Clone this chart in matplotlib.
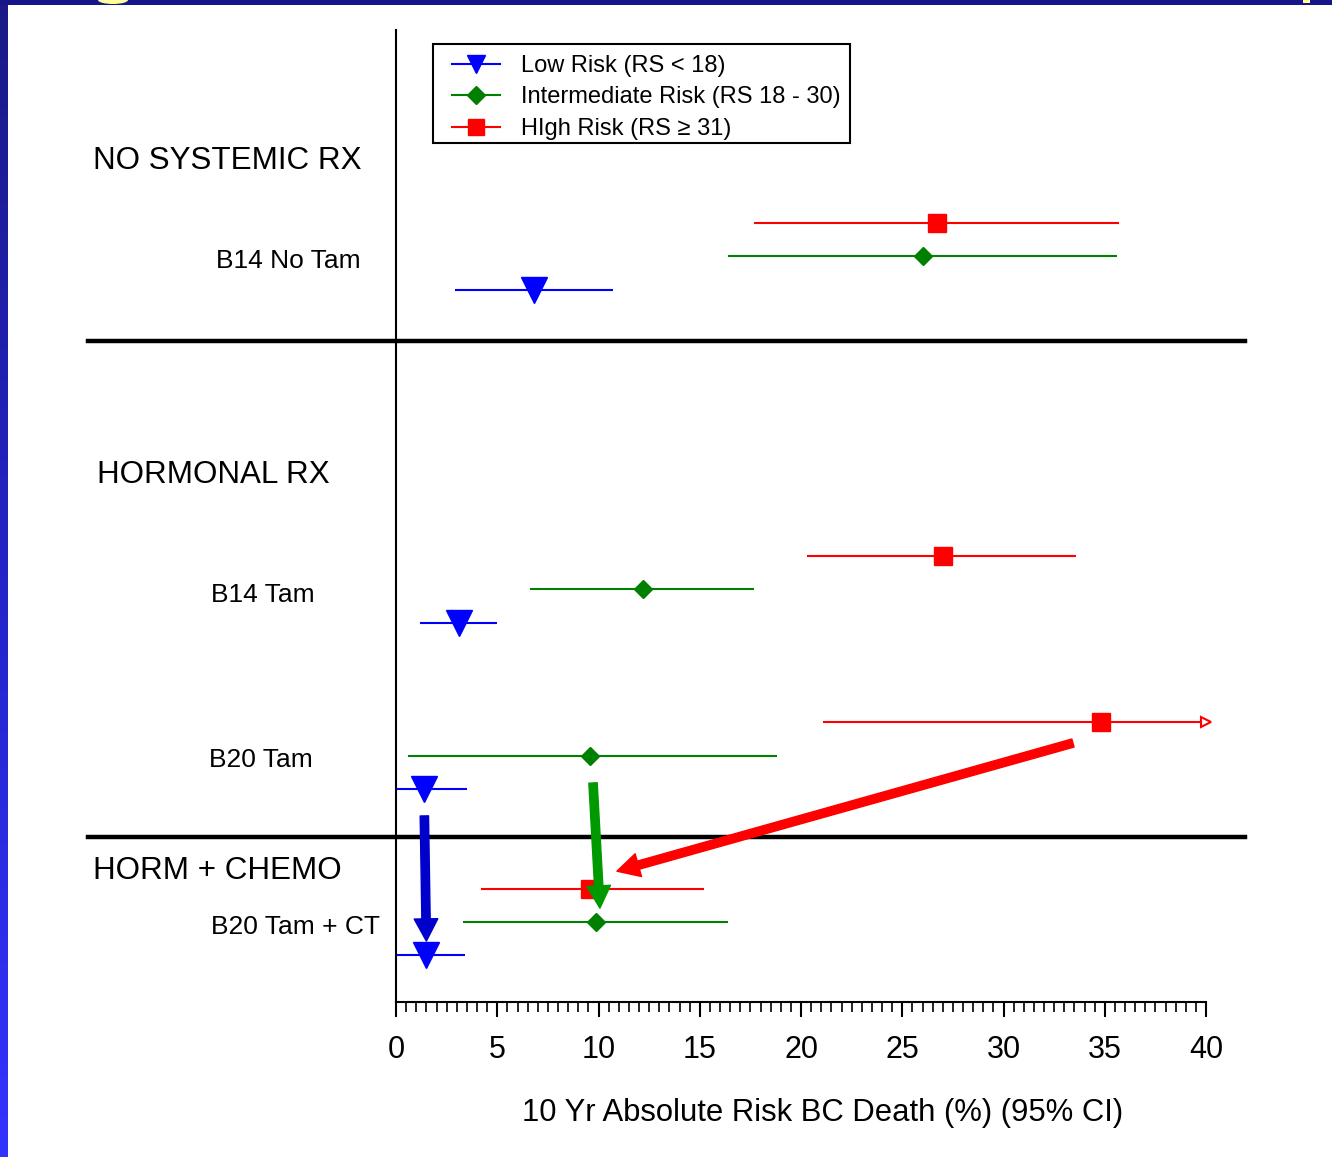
import numpy as np
import matplotlib
matplotlib.use("Agg")
import matplotlib.pyplot as plt
from matplotlib.lines import Line2D
from matplotlib.patches import Rectangle, Ellipse

plt.rcParams['font.family'] = ['Liberation Sans', 'DejaVu Sans']

# studies (row groups), top to bottom
studies = ['B14 No Tam', 'B14 Tam', 'B20 Tam', 'B20 Tam + CT']
study_y = [22.4, 12.4, 7.4, 2.4]

# 10 yr absolute risk (%) with 95% CI, per risk group
low_est = [6.8, 3.1, 1.4, 1.5]
low_lo = [2.9, 1.2, 0.0, 0.0]
low_hi = [10.7, 5.0, 3.5, 3.4]

int_est = [26.0, 12.2, 9.6, 9.9]
int_lo = [16.4, 6.6, 0.6, 3.3]
int_hi = [35.6, 17.7, 18.8, 16.4]

high_est = [26.7, 27.0, 34.8, 9.6]
high_lo = [17.7, 20.3, 21.1, 4.2]
high_hi = [35.7, 33.6, 40.0, 15.2]   # B20 Tam upper CI runs off the scale

sections = ['NO SYSTEMIC RX', 'HORMONAL RX', 'HORM + CHEMO']
section_y = [25.25, 15.82, 3.95]
section_x = [-0.374, -0.369, -0.374]
label_x = [-0.222, -0.228, -0.231, -0.228]
label_y = [22.27, 12.24, 7.26, 2.24]
separators = [19.85, 4.95]

W, H = 1332, 1157
fig = plt.figure(figsize=(W / 100, H / 100), dpi=100)
fig.patch.set_facecolor('white')

# slide decoration: top bar and left gradient strip
deco = fig.add_axes([0, 0, 1, 1], zorder=-5)
deco.set_xlim(0, W)
deco.set_ylim(H, 0)
deco.axis('off')
grad = np.linspace(0, 1, 256).reshape(-1, 1)
cmap = matplotlib.colors.LinearSegmentedColormap.from_list('strip', ['#1a1a86', '#2424c8', '#3333ff'])
deco.imshow(grad, cmap=cmap, extent=(0, 8, H, 0), aspect='auto')
deco.add_patch(Rectangle((0, 0), W, 5, color='#16168a', lw=0))
deco.add_patch(Ellipse((113, 0), 30, 8, color='#ffff99', lw=0))
deco.add_patch(Rectangle((1303, 0), 7, 3, color='#ffff99', lw=0))
# legend frame
deco.add_patch(Rectangle((433, 44), 417, 99, fill=False, ec='black', lw=1.5, zorder=10))

ax = fig.add_axes([396 / W, 1 - 1002 / H, 810 / W, 972 / H])
ax.set_facecolor('none')
ax.set_xlim(0, 40)
ax.set_ylim(0, 29.2)

blue, green, red = '#0000ff', '#008000', '#ff0000'
y = np.array(study_y)

def draw(est, lo, hi, ys, color, marker, ms):
    est, lo, hi = map(np.array, (est, lo, hi))
    ax.hlines(ys, lo, hi, color=color, lw=1.5, zorder=2)
    ax.plot(est, ys, ls='none', marker=marker, ms=ms, color=color, zorder=3)

draw(low_est, low_lo, low_hi, y - 1, blue, 'v', 19)
draw(int_est, int_lo, int_hi, y, green, 'D', 9)
draw(high_est, high_lo, high_hi, y + 1, red, 's', 12.5)
# open arrow head where the CI leaves the scale
ax.plot(high_hi[2], y[2] + 1, marker='>', ms=7, mfc='white', mec=red, mew=1.5,
        clip_on=False, zorder=3)

# arrows showing shift with chemo
def arrow(x0, y0, x1, y1, color):
    ax.annotate('', xy=(x1, y1), xytext=(x0, y0),
                arrowprops=dict(arrowstyle='simple,tail_width=6,head_width=17,head_length=16',
                                color=color, shrinkA=0, shrinkB=0, mutation_scale=1),
                zorder=4)

arrow(low_est[2], 5.59, low_est[3], 1.83, '#0000cc')
arrow(9.73, 6.58, 10.07, 2.82, '#009900')
arrow(33.43, 7.78, 10.91, 3.93, red)

# section separators, extending past the axes
for s in separators:
    ax.plot([-0.380, 1.048], [s, s], color='black', lw=3.2,
            transform=ax.get_yaxis_transform(), clip_on=False, zorder=1)

for name, sy, sx in zip(sections, section_y, section_x):
    ax.text(sx, sy, name, transform=ax.get_yaxis_transform(), fontsize=22.6,
            ha='left', va='center')
for name, sy, sx in zip(studies, label_y, label_x):
    ax.text(sx, sy, name, transform=ax.get_yaxis_transform(), fontsize=19,
            ha='left', va='center')

for side in ('top', 'right'):
    ax.spines[side].set_visible(False)
ax.spines['left'].set_linewidth(1.5)
ax.spines['bottom'].set_linewidth(1.5)
ax.set_yticks([])
ax.set_xticks(np.arange(0, 41, 5))
ax.set_xticks(np.arange(0, 40.5, 0.5), minor=True)
ax.tick_params(axis='x', which='major', length=11, width=1.5, labelsize=22, pad=13)
ax.tick_params(axis='x', which='minor', length=7, width=1.2)

fig.text(823 / W, 1 - 1113 / H, '10 Yr Absolute Risk BC Death (%) (95% CI)',
         fontsize=22.3, ha='center', va='center')

handles = [
    Line2D([], [], color=blue, lw=1.5, marker='v', ms=12.5),
    Line2D([], [], color=green, lw=1.5, marker='D', ms=9),
    Line2D([], [], color=red, lw=1.5, marker='s', ms=11),
]
labels = ['Low Risk (RS < 18)', 'Intermediate Risk (RS 18 - 30)', 'HIgh Risk (RS \u2265 31)']
leg = ax.legend(handles, labels, loc='upper left', bbox_to_anchor=(452 / W, 1 - 55 / H),
                bbox_transform=fig.transFigure, borderaxespad=0, borderpad=0, fontsize=17,
                frameon=False, handlelength=2.03, handletextpad=0.89, labelspacing=0.4)

fig.savefig('out.png', dpi=100)
